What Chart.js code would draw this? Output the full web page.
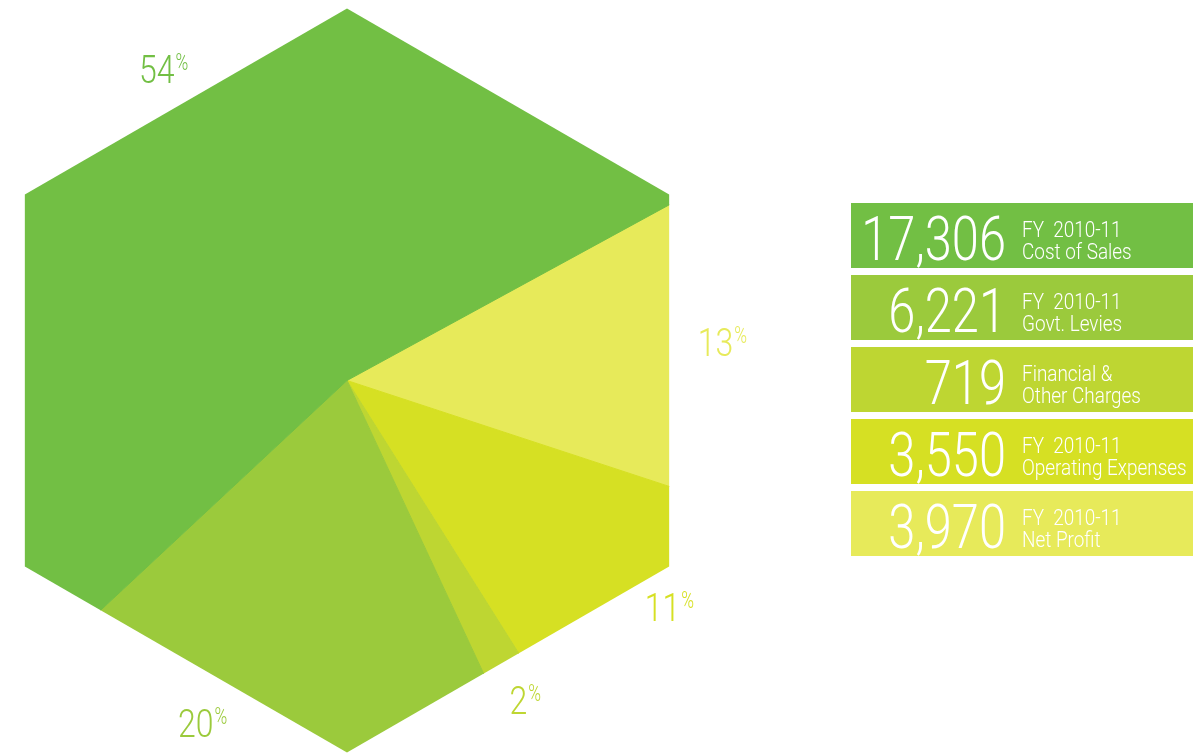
<!DOCTYPE html>
<html>
<head>
<meta charset="utf-8">
<title>Expenditure FY 2010-11</title>
<script src="https://cdn.jsdelivr.net/npm/chart.js@4/dist/chart.umd.min.js"></script>
<style>
    body { margin: 0; background: #ffffff; }
    canvas { display: block; }
</style>
</head>
<body>
<canvas id="hexChart" width="1204" height="753"></canvas>
<script>
// Figures for FY 2010-11
const categories = ['Cost of Sales', 'Govt. Levies', 'Financial & Other Charges', 'Operating Expenses', 'Net Profit']
const amounts = [17306, 6221, 719, 3550, 3970]
const shares = [54, 20, 2, 11, 13]
const boxLines = [
    ['FY  2010-11', 'Cost of Sales'],
    ['FY  2010-11', 'Govt. Levies'],
    ['Financial &', 'Other Charges'],
    ['FY  2010-11', 'Operating Expenses'],
    ['FY  2010-11', 'Net Profit']
]
const colors = ['#72bf44', '#9bca3c', '#bed632', '#d6e023', '#e7ea5a']

// slices run clockwise: net profit first, cost of sales last
const pieOrder = [4, 3, 2, 1, 0]

const FONT = 'Roboto, "Liberation Sans", sans-serif'

function condensedText(ctx, text, x, y, size, align, squeeze) {
    ctx.save()
    ctx.translate(x, y)
    ctx.scale(squeeze || 0.82, 1)
    ctx.font = '300 ' + size + 'px ' + FONT
    ctx.textAlign = align
    ctx.textBaseline = 'alphabetic'
    ctx.fillText(text, 0, 0)
    ctx.restore()
}

// clip the pie to a pointy-top hexagon
const hexClip = {
    id: 'hexClip',
    beforeDatasetsDraw(chart) {
        let arc = chart.getDatasetMeta(0).data[0]
        let ctx = chart.ctx
        let R = 372
        ctx.save()
        ctx.beginPath()
        for (let k = 0; k < 6; k++) {
            let a = (-90 + k * 60) * Math.PI / 180
            let px = arc.x + R * Math.cos(a)
            let py = arc.y + R * Math.sin(a)
            if (k == 0) ctx.moveTo(px, py)
            else ctx.lineTo(px, py)
        }
        ctx.closePath()
        ctx.clip()
    },
    afterDatasetsDraw(chart) {
        chart.ctx.restore()
    }
}

// percent labels around the hexagon + value boxes on the right
const labelNudge = [5.7, 9.5, 0.2, -2.2, 1.5]
const labelDist = [344, 381, 379, 411, 387]

const annotations = {
    id: 'annotations',
    afterDraw(chart) {
        let ctx = chart.ctx
        let meta = chart.getDatasetMeta(0)

        pieOrder.forEach((cat, j) => {
            let arc = meta.data[j]
            let mid = (arc.startAngle + arc.endAngle) / 2 + labelNudge[cat] * Math.PI / 180
            let x = arc.x + labelDist[cat] * Math.cos(mid)
            let y = arc.y + labelDist[cat] * Math.sin(mid)
            ctx.fillStyle = colors[cat]
            condensedText(ctx, String(shares[cat]), x, y, 39, 'right')
            condensedText(ctx, '%', x + 1, y - 13, 24, 'left', 0.72)
        })

        // boxes
        let left = 851, width = 342, top = 203, h = 65, gap = 7
        categories.forEach((c, i) => {
            let y0 = top + i * (h + gap)
            ctx.fillStyle = colors[i]
            ctx.fillRect(left, y0, width, h)
            ctx.fillStyle = '#ffffff'
            condensedText(ctx, amounts[i].toLocaleString('en-US'), 1006, y0 + 57, 61, 'right', 0.8)
            condensedText(ctx, boxLines[i][0], 1022, y0 + 34, 22, 'left', 0.86)
            condensedText(ctx, boxLines[i][1], 1022, y0 + 56, 22, 'left', 0.86)
        })
    }
}

const config = {
    type: 'pie',
    data: {
        labels: pieOrder.map(i => categories[i]),
        datasets: [{
            data: pieOrder.map(i => shares[i]),
            backgroundColor: pieOrder.map(i => colors[i]),
            borderColor: pieOrder.map(i => colors[i]),
            borderWidth: 1,
            radius: 430
        }]
    },
    options: {
        responsive: false,
        animation: false,
        events: [],
        rotation: 61.4,
        layout: { padding: { left: 0, right: 510, top: 8, bottom: 0 } },
        plugins: {
            legend: { display: false },
            tooltip: { enabled: false }
        }
    },
    plugins: [hexClip, annotations]
}

const hexChart = new Chart(document.getElementById('hexChart'), config)
</script>
</body>
</html>
